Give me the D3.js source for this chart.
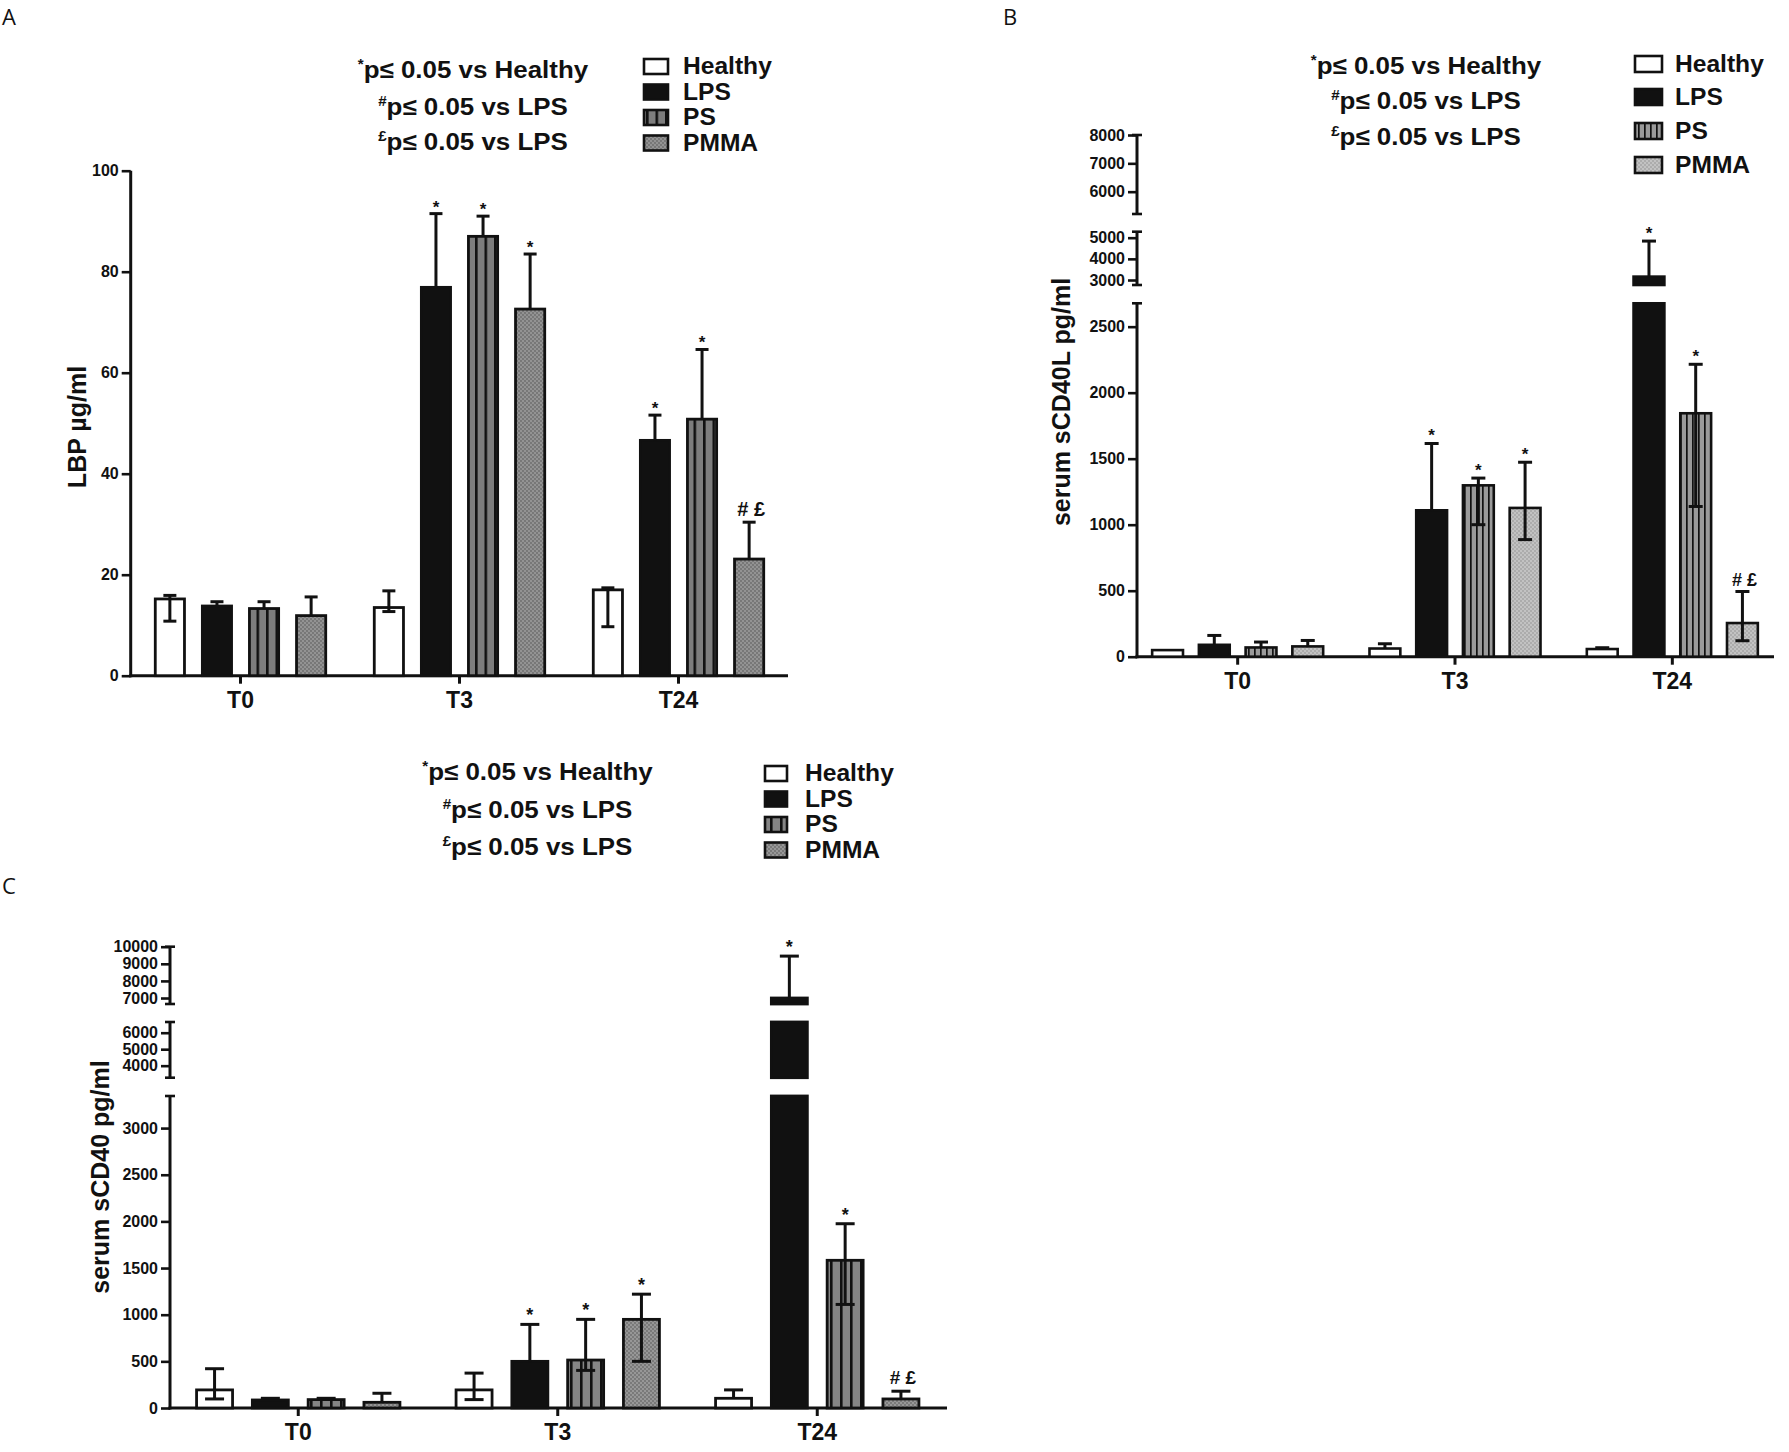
<!DOCTYPE html>
<html><head><meta charset="utf-8">
<script src="https://cdn.jsdelivr.net/npm/d3@7"></script>
<style>
body{margin:0;background:#fff}
text{font-family:"Liberation Sans",Arial,sans-serif;font-weight:bold;fill:#111}
</style>
</head><body>
<svg id="chart" width="1789" height="1452"></svg>
<script>
// ---------- shared ----------
const groups = ["T0", "T3", "T24"];
const series = ["Healthy", "LPS", "PS", "PMMA"];
const sigMarks = [[null, null, null], [null, "*", "*"], [null, "*", "*"], [null, "*", "# £"]];
const annotSymbols = ["*", "#", "£"];
const annotTexts = ["p≤ 0.05 vs Healthy", "p≤ 0.05 vs LPS", "p≤ 0.05 vs LPS"];

// ---------- panel A : LBP ----------
const aMean = [[15.2, 13.5, 17.0], [13.8, 76.9, 46.6], [13.3, 87.0, 50.8], [11.9, 72.6, 23.1]];
const aLow  = [[10.8, 12.7, 9.7], [null, null, null], [null, null, null], [null, null, null]];
const aHigh = [[15.9, 16.8, 17.4], [14.65, 91.5, 51.6], [14.65, 91.0, 64.6], [15.6, 83.5, 30.4]];
const aSegDomains = [[0, 100]];
const aTicks = [[0, 20, 40, 60, 80, 100]];

// ---------- panel B : sCD40L ----------
const bMean = [[50, 62, 58], [90, 1109, 3160], [70, 1298, 1844], [78, 1127, 255]];
const bLow  = [[null, null, null], [null, null, null], [null, 1000, 1138], [null, 887, 121]];
const bHigh = [[null, 98, 68], [161, 1615, 4840], [111, 1353, 2215], [123, 1473, 494]];
const bSegDomains = [[0, 2677], [2764, 5283], [5212, 8000]];
const bTicks = [[0, 500, 1000, 1500, 2000, 2500], [3000, 4000, 5000], [6000, 7000, 8000]];

// ---------- panel C : sCD40 ----------
const cMean = [[194, 194, 104], [86, 500, 7000], [90, 514, 1583], [61, 950, 97]];
const cLow  = [[97, 90, null], [null, null, null], [null, 403, 1110], [null, 500, null]];
const cHigh = [[421, 374, 194], [104, 896, 9450], [104, 950, 1975], [158, 1220, 180]];
const cSegDomains = [[0, 3344], [3270, 6650], [6650, 10000]];
const cTicks = [[0, 500, 1000, 1500, 2000, 2500, 3000], [4000, 5000, 6000], [7000, 8000, 9000, 10000]];

const svg = d3.select("#chart");
const defs = svg.append("defs");

function stripePattern(id, w, bg, lineW) {
  const p = defs.append("pattern").attr("id", id).attr("patternUnits", "userSpaceOnUse")
    .attr("width", w).attr("height", 10);
  p.append("rect").attr("width", w).attr("height", 10).attr("fill", bg);
  p.append("rect").attr("width", lineW).attr("height", 10).attr("fill", "#111");
}
function dotPattern(id, bg, dot) {
  const p = defs.append("pattern").attr("id", id).attr("patternUnits", "userSpaceOnUse")
    .attr("width", 4).attr("height", 4);
  p.append("rect").attr("width", 4).attr("height", 4).attr("fill", bg);
  p.append("circle").attr("cx", 1).attr("cy", 1).attr("r", 0.9).attr("fill", dot);
  p.append("circle").attr("cx", 3).attr("cy", 3).attr("r", 0.9).attr("fill", dot);
}
stripePattern("psA", 9.5, "#7d7d7d", 2.6);
stripePattern("psB", 6, "#9a9a9a", 1.7);
stripePattern("psC", 10, "#858585", 2.6);
dotPattern("pmA", "#939393", "#6a6a6a");
dotPattern("pmB", "#c2c2c2", "#a2a2a2");
dotPattern("pmC", "#979797", "#6c6c6c");

function drawPanel(cfg) {
  const g = svg.append("g");
  const x0 = d3.scaleBand().domain(groups).range(cfg.xRange);
  const span = x0.bandwidth() * 0.86;
  const x1 = d3.scaleBand().domain(series).range([-span / 2, span / 2])
    .paddingInner(cfg.barPad).paddingOuter(cfg.barPad / 2);
  const fills = ["#fff", "#111", `url(#${cfg.ps})`, `url(#${cfg.pm})`];

  const segs = cfg.segDomains.map((d, i) => ({
    lo: d[0], hi: d[1],
    y: d3.scaleLinear().domain(d).range(cfg.segRanges[i]),
    ticks: cfg.ticks[i]
  }));
  const segOf = v => {
    for (let i = segs.length - 1; i >= 0; i--) if (v >= segs[i].lo) return segs[i];
    return segs[0];
  };

  // y axis segments
  segs.forEach((s, i) => {
    const ax = g.append("g").attr("transform", `translate(${cfg.axisX},0)`)
      .call(d3.axisLeft(s.y).tickValues(s.ticks).tickSize(9).tickPadding(3).tickSizeOuter(0).tickFormat(d3.format("d")));
    ax.select(".domain").remove();
    ax.selectAll(".tick line").attr("stroke", "#111").attr("stroke-width", 2.6);
    ax.selectAll(".tick text").style("font-size", cfg.tickFont + "px").attr("fill", "#111");
    const [r0, r1] = s.y.range();
    g.append("line").attr("x1", cfg.axisX).attr("x2", cfg.axisX)
      .attr("y1", r0 + (i === 0 ? 1.5 : 0)).attr("y2", r1)
      .attr("stroke", "#111").attr("stroke-width", 3);
    if (segs.length > 1) {
      if (i > 0) g.append("line").attr("x1", cfg.axisX - 5).attr("x2", cfg.axisX + 5)
        .attr("y1", r0).attr("y2", r0).attr("stroke", "#111").attr("stroke-width", 2.6);
      g.append("line").attr("x1", cfg.axisX - 5).attr("x2", cfg.axisX + 5)
        .attr("y1", r1).attr("y2", r1).attr("stroke", "#111").attr("stroke-width", 2.6);
    }
  });

  // x axis
  const y0 = segs[0].y(0);
  const xa = g.append("g").attr("transform", `translate(0,${y0})`)
    .call(d3.axisBottom(x0).tickSize(8).tickPadding(8).tickSizeOuter(0));
  xa.select(".domain").remove();
  xa.selectAll(".tick line").attr("stroke", "#111").attr("stroke-width", 3);
  xa.selectAll(".tick text").style("font-size", cfg.catFont + "px").attr("fill", "#111");
  g.append("line").attr("x1", cfg.axisX - 1.5).attr("x2", cfg.axisEnd).attr("y1", y0).attr("y2", y0)
    .attr("stroke", "#111").attr("stroke-width", 3);

  // bars
  series.forEach((sn, si) => {
    groups.forEach((gn, gi) => {
      const v = cfg.mean[si][gi];
      const bx = x0(gn) + x0.bandwidth() / 2 + x1(sn);
      const bw = x1.bandwidth();
      const cx = bx + bw / 2;
      segs.forEach(s => {
        if (v <= s.lo) return;
        const top = Math.min(v, s.hi);
        const yb = s.y(s.lo), yt = s.y(top);
        g.append("rect").attr("x", bx).attr("y", yt).attr("width", bw).attr("height", yb - yt)
          .attr("fill", fills[si]).attr("stroke", "#111").attr("stroke-width", cfg.barStroke);
      });
      const sv = segOf(v);
      const yv = sv.y(v);
      const hi = cfg.high[si][gi], lo = cfg.low[si][gi];
      let capY = yv;
      if (hi !== null) {
        const sh = segOf(hi);
        const ystart = sh === sv ? yv : sh.y(sh.lo);
        capY = sh.y(hi);
        g.append("line").attr("x1", cx).attr("x2", cx).attr("y1", ystart).attr("y2", capY)
          .attr("stroke", "#111").attr("stroke-width", cfg.errStroke);
        g.append("line").attr("x1", cx - cfg.cap).attr("x2", cx + cfg.cap).attr("y1", capY).attr("y2", capY)
          .attr("stroke", "#111").attr("stroke-width", cfg.errStroke);
      }
      if (lo !== null) {
        const sl = segOf(lo);
        const yl = sl.y(lo);
        g.append("line").attr("x1", cx).attr("x2", cx).attr("y1", yv).attr("y2", yl)
          .attr("stroke", "#111").attr("stroke-width", cfg.errStroke);
        g.append("line").attr("x1", cx - cfg.cap).attr("x2", cx + cfg.cap).attr("y1", yl).attr("y2", yl)
          .attr("stroke", "#111").attr("stroke-width", cfg.errStroke);
      }
      const m = sigMarks[si][gi];
      if (m) {
        if (m === "*") {
          g.append("text").attr("x", cx).attr("y", capY - cfg.starOff).attr("text-anchor", "middle")
            .style("font-size", cfg.starFont + "px").text(m);
        } else {
          g.append("text").attr("x", cx + 2).attr("y", capY - cfg.hashOff).attr("text-anchor", "middle")
            .style("font-size", cfg.hashFont + "px").text(m);
        }
      }
    });
  });

  // y label
  g.append("text").attr("transform", `translate(${cfg.yLabelPos[0]},${cfg.yLabelPos[1]}) rotate(-90)`)
    .attr("text-anchor", "middle").attr("dy", "0.35em").style("font-size", "25px").text(cfg.yLabel);

  // annotation (slightly wide bold face, as in the reference)
  cfg.annotY.forEach((yy, i) => {
    const t = g.append("text").attr("transform", `translate(${cfg.annotX},${yy}) scale(1.08,1)`)
      .attr("text-anchor", "middle").style("font-size", "24px");
    t.append("tspan").attr("dy", -9).style("font-size", "14px").text(annotSymbols[i]);
    t.append("tspan").attr("dy", 9).text(annotTexts[i]);
  });

  // legend
  series.forEach((sn, si) => {
    const by = cfg.legY[si];
    g.append("rect").attr("x", cfg.legBoxX).attr("y", by - cfg.legBoxH).attr("width", cfg.legBoxW)
      .attr("height", cfg.legBoxH).attr("fill", fills[si]).attr("stroke", "#111").attr("stroke-width", 2.6);
    g.append("text").attr("transform", `translate(${cfg.legTextX},${by}) scale(1.07,1)`)
      .style("font-size", "23px").text(sn);
  });

  // panel letter
  svg.append("text").attr("x", cfg.letterPos[0]).attr("y", cfg.letterPos[1])
    .style("font-family", "'Open Sans', 'DejaVu Sans', sans-serif").style("font-weight", "normal")
    .style("font-size", "22px").text(cfg.letter);
}

drawPanel({
  letter: "A", letterPos: [2, 25],
  mean: aMean, low: aLow, high: aHigh, segDomains: aSegDomains, ticks: aTicks,
  segRanges: [[675.7, 170.7]],
  xRange: [131, 788], axisX: 130.7, axisEnd: 788, barPad: 0.38,
  ps: "psA", pm: "pmA", tickFont: 16, catFont: 23,
  barStroke: 2.8, errStroke: 3, cap: 6.5,
  starFont: 17, starOff: 1, hashFont: 20, hashOff: 6,
  yLabel: "LBP µg/ml", yLabelPos: [77, 427],
  annotX: 473, annotY: [78, 115, 150],
  legBoxX: 644, legBoxW: 24, legBoxH: 15, legTextX: 683, legY: [74, 99.5, 125, 150.5]
});

drawPanel({
  letter: "B", letterPos: [1003, 25],
  mean: bMean, low: bLow, high: bHigh, segDomains: bSegDomains, ticks: bTicks,
  segRanges: [[656.7, 303.3], [285, 231.7], [214, 135]],
  xRange: [1129, 1781], axisX: 1137, axisEnd: 1774, barPad: 0.34,
  ps: "psB", pm: "pmB", tickFont: 16, catFont: 23,
  barStroke: 2.6, errStroke: 3, cap: 7,
  starFont: 17, starOff: 2, hashFont: 18, hashOff: 5,
  yLabel: "serum sCD40L pg/ml", yLabelPos: [1061, 402],
  annotX: 1426, annotY: [74, 109, 145],
  legBoxX: 1635, legBoxW: 27, legBoxH: 16, legTextX: 1675, legY: [72, 105, 139, 173]
});

drawPanel({
  letter: "C", letterPos: [2, 894],
  mean: cMean, low: cLow, high: cHigh, segDomains: cSegDomains, ticks: cTicks,
  segRanges: [[1408, 1096], [1077.7, 1022], [1004, 946.7]],
  xRange: [168.5, 947], axisX: 170, axisEnd: 947, barPad: 0.355,
  ps: "psC", pm: "pmC", tickFont: 16, catFont: 23,
  barStroke: 2.8, errStroke: 3, cap: 9.5,
  starFont: 18, starOff: 3, hashFont: 19, hashOff: 7,
  yLabel: "serum sCD40 pg/ml", yLabelPos: [100, 1177],
  annotX: 537.5, annotY: [780, 818, 855],
  legBoxX: 765, legBoxW: 22, legBoxH: 15, legTextX: 805, legY: [781, 806.5, 832, 857.5]
});
</script>
</body></html>
